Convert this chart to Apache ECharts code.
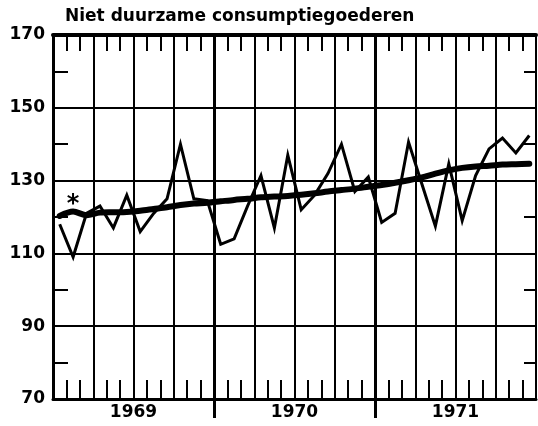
<!DOCTYPE html>
<html>
<head>
<meta charset="utf-8">
<script src="https://cdn.jsdelivr.net/npm/echarts@6/dist/echarts.min.js"></script>
<style>
html,body{margin:0;padding:0;background:#fff;}
#chart{width:538px;height:426px;}
</style>
</head>
<body>
<div id="chart"></div>
<script>
const titleText = 'Niet duurzame consumptiegoederen';
const years = ['1969', '1970', '1971'];
const months = [];
years.forEach(function (y) { for (let m = 1; m <= 12; m++) months.push(y + '-' + (m < 10 ? '0' + m : m)); });
const monthly = [118, 109, 121, 123, 117, 126, 116, 121, 125, 140, 125, 124.5,
                 112.5, 114, 123, 131.4, 117, 137, 122, 126, 132, 140, 127, 131,
                 118.5, 121, 140.6, 129, 117.5, 134.6, 119, 131.4, 138.7, 141.7, 137.6, 142.4];
const trend = [120.3, 121.5, 120.5, 121.2, 121.3, 121.4, 121.7, 122.2, 122.7, 123.3, 123.7, 123.9,
               124.3, 124.7, 125.0, 125.4, 125.6, 125.8, 126.1, 126.5, 127.0, 127.4, 127.8, 128.3,
               128.8, 129.4, 130.1, 130.9, 131.9, 132.8, 133.5, 133.9, 134.1, 134.4, 134.5, 134.6];
const yMin = 70, yMax = 170, yStep = 10;
const yLabelled = [70, 90, 110, 130, 150, 170];
const asterisk = { month: months[1], value: 123.3 };

const font = '"DejaVu Sans", sans-serif';
const clear = 'rgba(0,0,0,0)';
// month-boundary colours: thin quarter lines (grid 0), thick year lines (grid 2)
const quarterColors = ['#000', clear, clear];
const yearColors = months.map(function (m, i) { return (i % 12 === 0 && i > 0) ? '#000' : clear; });

const chart = echarts.init(document.getElementById('chart'), null, { renderer: 'canvas' });
const gridBox = { left: 53, right: 2, top: 35, bottom: 27 };
chart.setOption({
  animation: false,
  backgroundColor: '#ffffff',
  title: {
    text: titleText, left: 60, top: 3,
    textStyle: { fontFamily: font, fontSize: 17, fontWeight: 'bold', color: '#000' }
  },
  grid: [Object.assign({}, gridBox), Object.assign({}, gridBox),
         { left: 53, right: 2, top: 35, bottom: 8 }],
  xAxis: [
    {
      gridIndex: 0, type: 'category', data: months, position: 'bottom', boundaryGap: true,
      axisLine: { show: true, lineStyle: { color: '#000', width: 3 } },
      axisTick: { show: true, inside: true, length: 19, interval: 0, lineStyle: { color: '#000', width: 2 } },
      axisLabel: { show: false },
      splitLine: { show: true, interval: 0, lineStyle: { color: quarterColors, width: 2 } }
    },
    {
      gridIndex: 0, type: 'category', data: months, position: 'top', boundaryGap: true,
      axisLine: { show: true, lineStyle: { color: '#000', width: 4 } },
      axisTick: { show: true, inside: true, length: 16, interval: 0, lineStyle: { color: '#000', width: 2 } },
      axisLabel: { show: false },
      splitLine: { show: false }
    },
    {
      gridIndex: 1, type: 'category', data: years, position: 'bottom', boundaryGap: true,
      axisLine: { show: false },
      axisTick: { show: false },
      axisLabel: { show: true, margin: 5, fontFamily: font, fontSize: 17, fontWeight: 'bold', color: '#000' },
      splitLine: { show: false }
    },
    {
      gridIndex: 2, type: 'category', data: months, position: 'bottom', boundaryGap: true,
      axisLine: { show: false }, axisTick: { show: false }, axisLabel: { show: false },
      splitLine: { show: true, interval: 0, lineStyle: { color: yearColors, width: 3 } }
    }
  ],
  yAxis: [
    {
      gridIndex: 0, type: 'value', min: yMin, max: yMax, interval: yStep, position: 'left',
      axisLine: { show: true, lineStyle: { color: '#000', width: 3 } },
      axisTick: { show: true, inside: true, length: 15, lineStyle: { color: '#000', width: 2 } },
      axisLabel: {
        show: true, margin: 8, fontFamily: font, fontSize: 17, fontWeight: 'bold', color: '#000',
        formatter: function (v) { return yLabelled.indexOf(v) >= 0 ? String(v) : ''; }
      },
      splitLine: { show: true, lineStyle: { color: ['#000', clear], width: 2 } }
    },
    {
      gridIndex: 0, type: 'value', min: yMin, max: yMax, interval: yStep, position: 'right',
      axisLine: { show: true, lineStyle: { color: '#000', width: 2 } },
      axisTick: { show: true, inside: true, length: 12, lineStyle: { color: '#000', width: 2 } },
      axisLabel: { show: false },
      splitLine: { show: false }
    },
    { gridIndex: 1, type: 'value', min: yMin, max: yMax, show: false },
    { gridIndex: 2, type: 'value', min: yMin, max: yMax, show: false }
  ],
  series: [
    {
      type: 'line', xAxisIndex: 0, yAxisIndex: 0, data: monthly, showSymbol: false,
      lineStyle: { color: '#000', width: 3, join: 'miter' }, z: 5,
      markPoint: {
        symbol: 'circle', symbolSize: 1, itemStyle: { color: clear },
        label: { show: true, position: 'inside', formatter: '*', fontFamily: font, fontSize: 24, fontWeight: 'bold', color: '#000' },
        data: [{ coord: [asterisk.month, asterisk.value] }]
      }
    },
    {
      type: 'line', xAxisIndex: 0, yAxisIndex: 0, data: trend, showSymbol: false, smooth: 0.3,
      lineStyle: { color: '#000', width: 6, cap: 'round' }, z: 4
    }
  ]
});
</script>
</body>
</html>
